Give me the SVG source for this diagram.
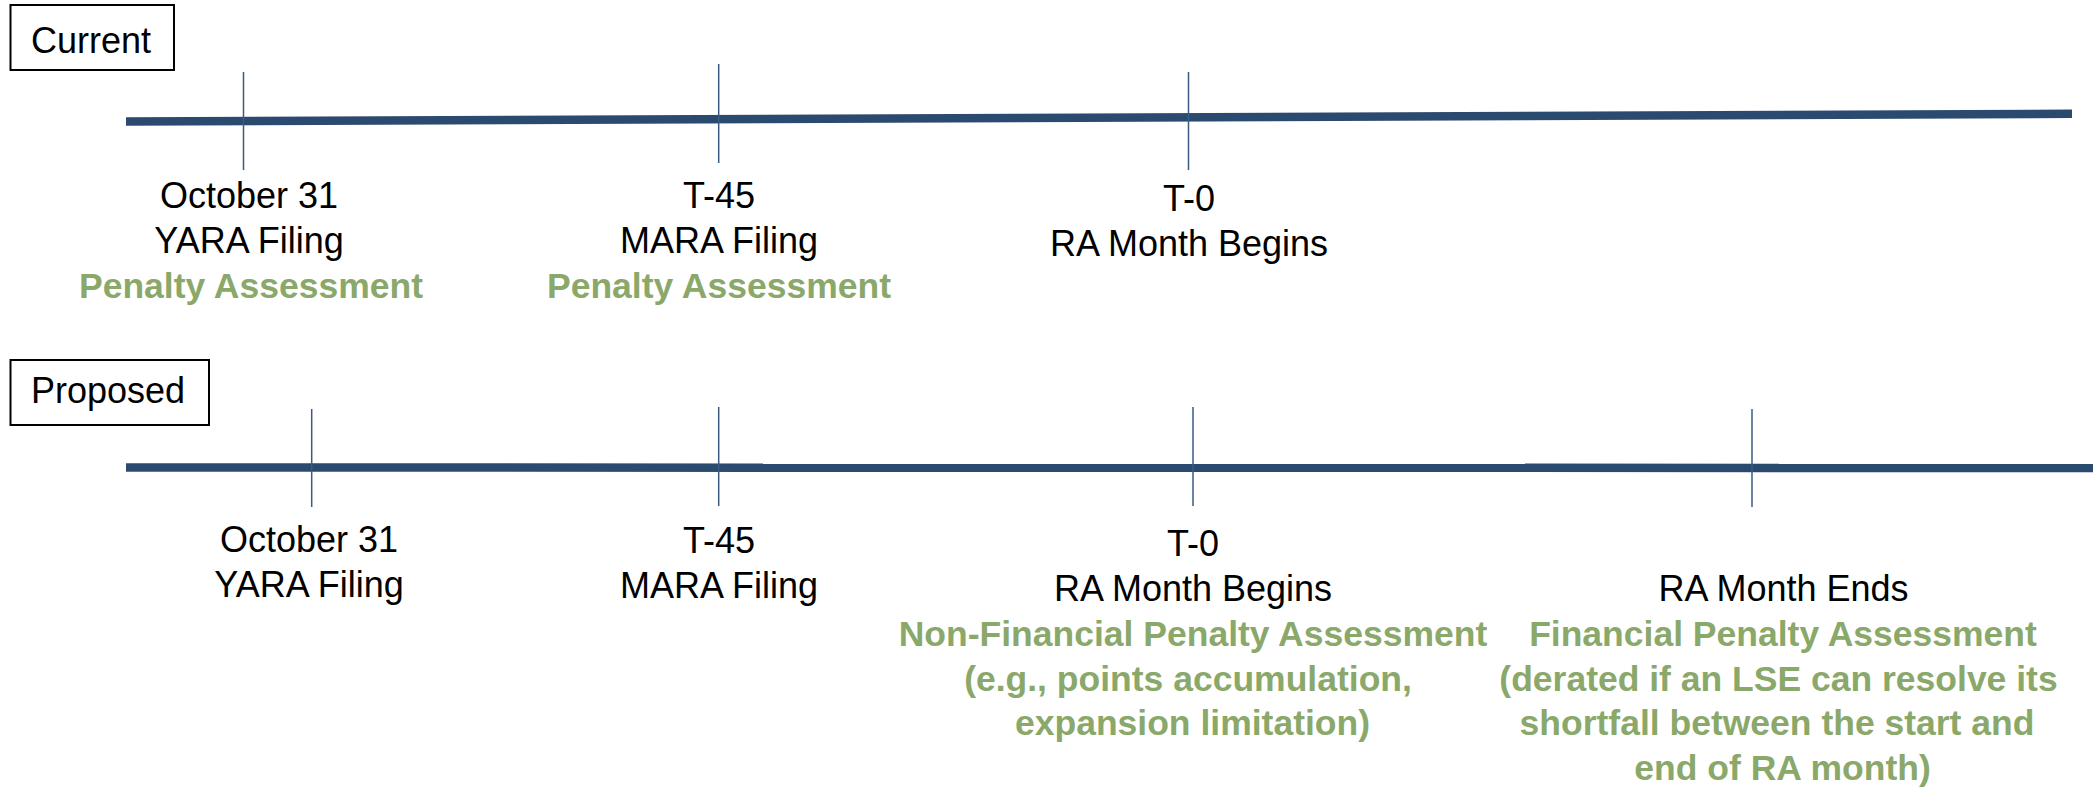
<svg xmlns="http://www.w3.org/2000/svg" width="2093" height="788" viewBox="0 0 2093 788">
<style>
.lbl{font-family:"Liberation Sans",Arial,sans-serif;font-size:36px;fill:#000;text-anchor:middle}
.pen{font-family:"Liberation Sans",Arial,sans-serif;font-size:35.5px;font-weight:bold;fill:#8aa86a;text-anchor:middle}
.box{fill:#fff;stroke:#000;stroke-width:2}
.boxt{font-family:"Liberation Sans",Arial,sans-serif;font-size:36px;fill:#000}
.axis{stroke:#2b4a6f;stroke-width:8.5;fill:none}
.tick{stroke:#3b5a82;stroke-width:1.5}
</style>
<rect width="2093" height="788" fill="#fff"/>
<g id="connectors">
  <line class="axis" x1="126" y1="121.5" x2="2072" y2="113.8"/>
  <line class="axis" x1="126" y1="467.5" x2="2093" y2="468"/>
  <line class="tick" x1="243.5" y1="72" x2="243.5" y2="170"/>
  <line class="tick" x1="718.7" y1="64" x2="718.7" y2="163"/>
  <line class="tick" x1="1188.5" y1="72" x2="1188.5" y2="170"/>
  <line class="tick" x1="311.7" y1="409" x2="311.7" y2="507"/>
  <line class="tick" x1="718.7" y1="407" x2="718.7" y2="506"/>
  <line class="tick" x1="1193" y1="407" x2="1193" y2="506"/>
  <line class="tick" x1="1752" y1="409" x2="1752" y2="507"/>
</g>
<g id="current-label">
  <rect class="box" x="10.5" y="5" width="163.5" height="65"/>
  <text class="boxt" x="31" y="52.5">Current</text>
</g>
<g id="current-oct31">
  <text class="lbl" x="249" y="208">October 31</text>
  <text class="lbl" x="249" y="253">YARA Filing</text>
  <text class="pen" x="251" y="298">Penalty Assessment</text>
</g>
<g id="current-t45">
  <text class="lbl" x="719" y="208">T-45</text>
  <text class="lbl" x="719" y="253">MARA Filing</text>
  <text class="pen" x="719" y="298">Penalty Assessment</text>
</g>
<g id="current-t0">
  <text class="lbl" x="1189" y="210.5">T-0</text>
  <text class="lbl" x="1189" y="256">RA Month Begins</text>
</g>
<g id="proposed-label">
  <rect class="box" x="10.5" y="360" width="198.5" height="65"/>
  <text class="boxt" x="31" y="402.5">Proposed</text>
</g>
<g id="proposed-oct31">
  <text class="lbl" x="309" y="552">October 31</text>
  <text class="lbl" x="309" y="597">YARA Filing</text>
</g>
<g id="proposed-t45">
  <text class="lbl" x="719" y="553">T-45</text>
  <text class="lbl" x="719" y="598">MARA Filing</text>
</g>
<g id="proposed-t0">
  <text class="lbl" x="1193" y="556">T-0</text>
  <text class="lbl" x="1193" y="601">RA Month Begins</text>
  <text class="pen" x="1193" y="646">Non-Financial Penalty Assessment</text>
  <text class="pen" x="1188" y="690.5">(e.g., points accumulation,</text>
  <text class="pen" x="1192.5" y="735">expansion limitation)</text>
</g>
<g id="proposed-end">
  <text class="lbl" x="1783.5" y="601">RA Month Ends</text>
  <text class="pen" x="1783" y="646">Financial Penalty Assessment</text>
  <text class="pen" x="1778.5" y="690.5">(derated if an LSE can resolve its</text>
  <text class="pen" x="1777" y="735">shortfall between the start and</text>
  <text class="pen" x="1782.5" y="780">end of RA month)</text>
</g>
</svg>
